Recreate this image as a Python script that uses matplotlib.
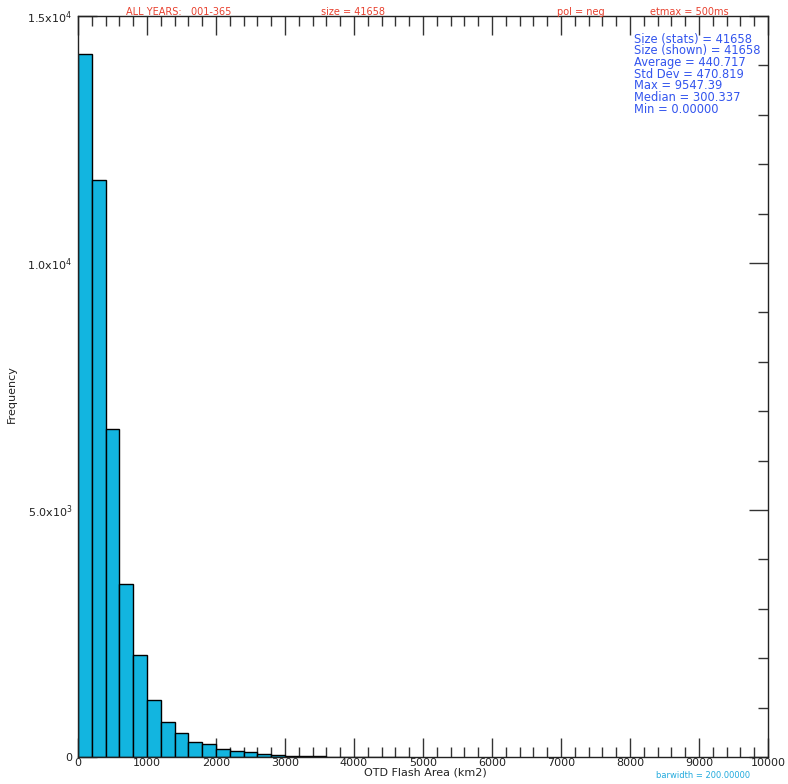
import matplotlib
matplotlib.use("Agg")
import matplotlib.pyplot as plt
from matplotlib.ticker import MultipleLocator, FixedLocator

# Histogram data (bin width 200 km2)
bin_left = [0, 200, 400, 600, 800, 1000, 1200, 1400, 1600, 1800, 2000, 2200,
            2400, 2600, 2800, 3000, 3200, 3400, 3600, 3800, 4000, 4200, 4400, 4600]
counts = [14230, 11680, 6630, 3500, 2055, 1150, 705, 487, 305, 264, 156, 122,
          95, 55, 40, 27, 20, 12, 9, 6, 0, 0, 3, 2]
bar_width = 200

y_ticks = [0, 5000, 10000, 15000]
y_ticklabels = ["0", "5.0x10$^{3}$", "1.0x10$^{4}$", "1.5x10$^{4}$"]
x_ticks = [0, 1000, 2000, 3000, 4000, 5000, 6000, 7000, 8000, 9000, 10000]

stats_lines = ["Size (stats) = 41658", "Size (shown) = 41658", "Average = 440.717",
               "Std Dev = 470.819", "Max = 9547.39", "Median = 300.337", "Min = 0.00000"]

fig = plt.figure(figsize=(7.88, 7.84), dpi=100)
ax = fig.add_axes([78/788, 1-757/784, (768-78)/788, (757-16)/784])

ax.bar(bin_left, counts, width=bar_width, align='edge', color='#12b5e0',
       edgecolor='black', linewidth=1.0)
ax.set_axisbelow(True)

ax.set_xlim(0, 10000)
ax.set_ylim(0, 15000)

ax.xaxis.set_major_locator(FixedLocator(x_ticks))
ax.xaxis.set_minor_locator(MultipleLocator(200))
ax.yaxis.set_major_locator(FixedLocator(y_ticks))
ax.yaxis.set_minor_locator(MultipleLocator(1000))
ax.set_yticklabels(y_ticklabels)
ax.set_xticklabels([str(v) for v in x_ticks])

ax.tick_params(which='both', direction='in', top=True, right=True, color='#333333')
ax.tick_params(which='major', length=14, width=1.0, labelsize=8, pad=4, labelcolor='#222222')
ax.tick_params(which='minor', length=7, width=1.0)
ax.tick_params(axis='x', which='major', pad=1)

for s in ax.spines.values():
    s.set_linewidth(1.0)
    s.set_color('#222222')

ax.set_xlabel("OTD Flash Area (km2)", fontsize=8, labelpad=0, color='#222222')
ax.set_ylabel("Frequency", fontsize=8, color='#222222')
ax.yaxis.set_label_coords(-0.088, 0.49)
ax.xaxis.set_label_coords(0.503, -0.0135)

red = '#e8402e'
fig.text(126/788, 1-12/784, "ALL YEARS:   001-365", color=red, fontsize=7, va='center', ha='left')
fig.text(321/788, 1-12/784, "size = 41658", color=red, fontsize=7, va='center', ha='left')
fig.text(557/788, 1-12/784, "pol = neg", color=red, fontsize=7, va='center', ha='left')
fig.text(650/788, 1-12/784, "etmax = 500ms", color=red, fontsize=7, va='center', ha='left')

for i, line in enumerate(stats_lines):
    fig.text(634/788, 1-(39 + 11.7*i)/784, line, color='#3355ee', fontsize=8.3,
             va='center', ha='left')

fig.text(656/788, 1-775/784, "barwidth = 200.00000", color='#22aadd', fontsize=6,
         va='center', ha='left')

fig.savefig("out.png", dpi=100)
